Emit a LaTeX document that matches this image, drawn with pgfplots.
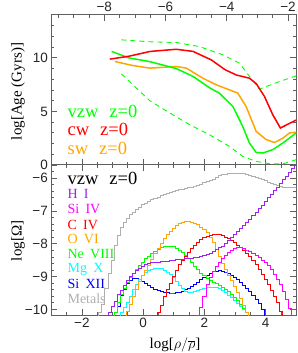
\documentclass[border=0pt]{standalone}
\usepackage{fontspec}
\setmainfont{Liberation Serif}
\newfontfamily\tickfont{Liberation Sans}
\usepackage{pgfplots}
\pgfplotsset{compat=1.18}
\definecolor{cgreen}{RGB}{0,255,0}
\definecolor{cred}{RGB}{255,0,0}
\definecolor{corange}{RGB}{255,165,0}
\definecolor{cpurple}{RGB}{160,32,240}
\definecolor{cmag}{RGB}{255,0,255}
\definecolor{ccyan}{RGB}{0,255,255}
\definecolor{cblue}{RGB}{0,0,255}
\definecolor{cgray}{RGB}{175,175,175}
\definecolor{axgray}{RGB}{95,95,95}
\newcommand{\legfont}{\fontsize{18.5}{18.5}\selectfont}
\newcommand{\smfont}{\fontsize{14}{14}\selectfont}
\pgfplotsset{
  myax/.style={
    width=245pt, height=150pt, scale only axis,
    axis line style={axgray, line width=1pt},
    tick style={axgray, line width=0.8pt},
    major tick length=6pt, minor tick length=3pt,
    tick align=inside,
    tick label style={font=\tickfont\fontsize{13.5}{13.5}\selectfont, text=black!85},
    label style={font=\fontsize{15}{15}\selectfont},
    clip=true,
  },
  hist/.style={const plot mark mid, line width=0.9pt, no marks},
}
\begin{document}
\begin{tikzpicture}
% ---------------- bottom panel ----------------
\begin{axis}[myax, name=bot, at={(0,0)}, anchor=south west,
  xmin=-3, xmax=5, ymin=-10.17, ymax=-5.6,
  xtick={-2,0,2,4}, xticklabels={−2,0,2,4},
  minor xtick={-2.5,-1.5,-1,-0.5,0.5,1,1.5,2.5,3,3.5,4.5},
  ytick={-10,-9,-8,-7,-6}, yticklabels={−10,−9,−8,−7,−6},
  minor ytick={-9.8,-9.6,-9.4,-9.2,-8.8,-8.6,-8.4,-8.2,-7.8,-7.6,-7.4,-7.2,-6.8,-6.6,-6.4,-6.2,-5.8},
  xlabel={log[$\rho/\overline{\rho}$]},
  ylabel={log[Ω]},
  xlabel style={at={(axis description cs:0.505,-0.2)}, anchor=center},
  ylabel style={at={(axis description cs:-0.136,0.494)}, anchor=center},
]
% Metals
\addplot[hist, cgray] coordinates {(-1.5,-10.6) (-1.4,-10.1) (-1.3,-9.85) (-1.2,-9.35) (-1.1,-8.9) (-1.0,-8.5) (-0.9,-8.05) (-0.8,-7.75) (-0.7,-7.5) (-0.6,-7.35) (-0.5,-7.22) (-0.4,-7.12) (-0.3,-7.04) (-0.2,-6.96) (-0.1,-6.88) (0.0,-6.81) (0.1,-6.76) (0.2,-6.71) (0.3,-6.66) (0.4,-6.62) (0.5,-6.58) (0.6,-6.54) (0.7,-6.50) (0.8,-6.46) (0.9,-6.43) (1.0,-6.40) (1.1,-6.38) (1.2,-6.35) (1.3,-6.33) (1.4,-6.31) (1.5,-6.29) (1.6,-6.27) (1.7,-6.24) (1.8,-6.21) (1.9,-6.18) (2.0,-6.14) (2.1,-6.11) (2.2,-6.08) (2.3,-6.03) (2.4,-5.98) (2.5,-5.93) (2.6,-5.90) (2.7,-5.88) (2.8,-5.86) (2.9,-5.85) (3.0,-5.85) (3.1,-5.85) (3.2,-5.86) (3.3,-5.87) (3.4,-5.89) (3.5,-5.91) (3.6,-5.94) (3.7,-5.98) (3.8,-6.02) (3.9,-6.05) (4.0,-6.08) (4.1,-6.12) (4.2,-6.16) (4.3,-6.19) (4.4,-6.22) (4.5,-6.25) (4.6,-6.27) (4.7,-6.28) (4.8,-6.29) (4.9,-6.29) (5.0,-6.29) (5.1,-6.29)};
% Si XII
\addplot[hist, cblue] coordinates {(-1.0,-10.6) (-0.9,-10.1) (-0.8,-9.90) (-0.7,-9.58) (-0.6,-9.38) (-0.5,-9.22) (-0.4,-9.12) (-0.3,-9.07) (-0.2,-9.07) (-0.1,-9.10) (0.0,-9.16) (0.1,-9.22) (0.2,-9.28) (0.3,-9.33) (0.4,-9.38) (0.5,-9.42) (0.6,-9.45) (0.7,-9.47) (0.8,-9.49) (0.9,-9.50) (1.0,-9.50) (1.1,-9.49) (1.2,-9.47) (1.3,-9.44) (1.4,-9.40) (1.5,-9.35) (1.6,-9.30) (1.7,-9.24) (1.8,-9.17) (1.9,-9.10) (2.0,-9.02) (2.1,-8.95) (2.2,-8.89) (2.3,-8.85) (2.4,-8.83) (2.5,-8.82) (2.6,-8.83) (2.7,-8.86) (2.8,-8.90) (2.9,-8.96) (3.0,-9.02) (3.1,-9.09) (3.2,-9.17) (3.3,-9.26) (3.4,-9.35) (3.5,-9.45) (3.6,-9.56) (3.7,-9.69) (3.8,-9.83) (3.9,-10.0) (4.0,-10.6)};
% Mg X
\addplot[hist, ccyan] coordinates {(-0.8,-10.6) (-0.7,-10.1) (-0.6,-9.95) (-0.5,-9.78) (-0.4,-9.60) (-0.3,-9.40) (-0.2,-9.23) (-0.1,-9.08) (0.0,-8.96) (0.1,-8.87) (0.2,-8.81) (0.3,-8.77) (0.4,-8.75) (0.5,-8.75) (0.6,-8.76) (0.7,-8.80) (0.8,-8.86) (0.9,-8.93) (1.0,-9.03) (1.1,-9.15) (1.2,-9.27) (1.3,-9.37) (1.4,-9.44) (1.5,-9.47) (1.6,-9.47) (1.7,-9.45) (1.8,-9.42) (1.9,-9.39) (2.0,-9.36) (2.1,-9.33) (2.2,-9.32) (2.3,-9.32) (2.4,-9.33) (2.5,-9.37) (2.6,-9.42) (2.7,-9.48) (2.8,-9.56) (2.9,-9.64) (3.0,-9.72) (3.1,-9.81) (3.2,-9.90) (3.3,-10.0) (3.4,-10.1) (3.5,-10.6)};
% Ne VIII
\addplot[hist, cgreen] coordinates {(-1.0,-10.6) (-0.9,-10.1) (-0.8,-9.80) (-0.7,-9.55) (-0.6,-9.35) (-0.5,-9.17) (-0.4,-9.02) (-0.3,-8.90) (-0.2,-8.78) (-0.1,-8.67) (0.0,-8.56) (0.1,-8.46) (0.2,-8.38) (0.3,-8.30) (0.4,-8.23) (0.5,-8.17) (0.6,-8.12) (0.7,-8.09) (0.8,-8.07) (0.9,-8.07) (1.0,-8.09) (1.1,-8.13) (1.2,-8.19) (1.3,-8.27) (1.4,-8.36) (1.5,-8.46) (1.6,-8.57) (1.7,-8.68) (1.8,-8.79) (1.9,-8.89) (2.0,-8.98) (2.1,-9.06) (2.2,-9.12) (2.3,-9.17) (2.4,-9.22) (2.5,-9.27) (2.6,-9.33) (2.7,-9.39) (2.8,-9.46) (2.9,-9.54) (3.0,-9.63) (3.1,-9.73) (3.2,-9.84) (3.3,-9.97) (3.4,-10.1) (3.5,-10.6)};
% O VI
\addplot[hist, corange] coordinates {(-0.6,-10.6) (-0.5,-10.05) (-0.4,-9.85) (-0.3,-9.62) (-0.2,-9.38) (-0.1,-9.16) (0.0,-8.98) (0.1,-8.82) (0.2,-8.67) (0.3,-8.48) (0.4,-8.30) (0.5,-8.13) (0.6,-7.98) (0.7,-7.84) (0.8,-7.72) (0.9,-7.62) (1.0,-7.53) (1.1,-7.45) (1.2,-7.39) (1.3,-7.35) (1.4,-7.32) (1.5,-7.32) (1.6,-7.34) (1.7,-7.37) (1.8,-7.42) (1.9,-7.49) (2.0,-7.57) (2.1,-7.67) (2.2,-7.80) (2.3,-7.97) (2.4,-8.18) (2.5,-8.40) (2.6,-8.60) (2.7,-8.78) (2.8,-8.95) (2.9,-9.12) (3.0,-9.30) (3.1,-9.48) (3.2,-9.68) (3.3,-9.88) (3.4,-10.08) (3.5,-10.6)};
% C IV
\addplot[hist, cred] coordinates {(0.4,-10.6) (0.5,-10.1) (0.6,-9.88) (0.7,-9.62) (0.8,-9.40) (0.9,-9.20) (1.0,-9.0) (1.1,-8.80) (1.2,-8.64) (1.3,-8.50) (1.4,-8.38) (1.5,-8.26) (1.6,-8.15) (1.7,-8.05) (1.8,-7.95) (1.9,-7.88) (2.0,-7.82) (2.1,-7.78) (2.2,-7.75) (2.3,-7.73) (2.4,-7.72) (2.5,-7.73) (2.6,-7.76) (2.7,-7.80) (2.8,-7.85) (2.9,-7.91) (3.0,-7.97) (3.1,-8.04) (3.2,-8.12) (3.3,-8.20) (3.4,-8.29) (3.5,-8.39) (3.6,-8.51) (3.7,-8.64) (3.8,-8.77) (3.9,-8.92) (4.0,-9.08) (4.1,-9.25) (4.2,-9.42) (4.3,-9.60) (4.4,-9.80) (4.5,-10.05) (4.6,-10.6)};
% Si IV
\addplot[hist, cmag] coordinates {(1.8,-10.6) (1.9,-9.95) (2.0,-9.6) (2.1,-9.25) (2.2,-9.02) (2.3,-8.85) (2.4,-8.70) (2.5,-8.57) (2.6,-8.45) (2.7,-8.36) (2.8,-8.27) (2.9,-8.20) (3.0,-8.15) (3.1,-8.12) (3.2,-8.12) (3.3,-8.15) (3.4,-8.19) (3.5,-8.23) (3.6,-8.29) (3.7,-8.36) (3.8,-8.43) (3.9,-8.50) (4.0,-8.58) (4.1,-8.67) (4.2,-8.78) (4.3,-8.92) (4.4,-9.08) (4.5,-9.25) (4.6,-9.45) (4.7,-9.70) (4.8,-9.97) (4.9,-10.6)};
% H I
\addplot[hist, cpurple] coordinates {(-1.2,-10.6) (-1.1,-10.1) (-1.0,-9.9) (-0.9,-9.75) (-0.8,-9.55) (-0.7,-9.42) (-0.6,-9.27) (-0.5,-9.12) (-0.4,-9.0) (-0.3,-8.9) (-0.2,-8.81) (-0.1,-8.74) (0.0,-8.68) (0.1,-8.63) (0.2,-8.60) (0.3,-8.58) (0.4,-8.57) (0.5,-8.56) (0.6,-8.55) (0.7,-8.54) (0.8,-8.53) (0.9,-8.52) (1.0,-8.50) (1.1,-8.49) (1.2,-8.48) (1.3,-8.47) (1.4,-8.46) (1.5,-8.45) (1.6,-8.44) (1.7,-8.43) (1.8,-8.41) (1.9,-8.39) (2.0,-8.37) (2.1,-8.34) (2.2,-8.29) (2.3,-8.23) (2.4,-8.18) (2.5,-8.12) (2.6,-8.07) (2.7,-7.98) (2.8,-7.89) (2.9,-7.80) (3.0,-7.72) (3.1,-7.63) (3.2,-7.54) (3.3,-7.45) (3.4,-7.36) (3.5,-7.26) (3.6,-7.15) (3.7,-7.04) (3.8,-6.93) (3.9,-6.82) (4.0,-6.71) (4.1,-6.60) (4.2,-6.49) (4.3,-6.38) (4.4,-6.27) (4.5,-6.16) (4.6,-6.05) (4.7,-5.94) (4.8,-5.83) (4.9,-5.72) (5.0,-5.62) (5.1,-5.52)};
\node[anchor=mid west, font=\legfont, text=black, inner ysep=1pt] at (rel axis cs:0.052,0.887) {vzw\hspace{0.6em}z=0};
\node[anchor=mid west, font=\smfont, text=cpurple, inner ysep=1pt] at (rel axis cs:0.052,0.795) {H\hspace{0.45em}I};
\node[anchor=mid west, font=\smfont, text=cmag, inner ysep=1pt] at (rel axis cs:0.052,0.69) {Si\hspace{0.45em}IV};
\node[anchor=mid west, font=\smfont, text=cred, inner ysep=1pt] at (rel axis cs:0.052,0.588) {C\hspace{0.45em}IV};
\node[anchor=mid west, font=\smfont, text=corange, inner ysep=1pt] at (rel axis cs:0.052,0.49) {O\hspace{0.45em}VI};
\node[anchor=mid west, font=\smfont, text=cgreen, inner ysep=1pt] at (rel axis cs:0.052,0.39) {Ne\hspace{0.45em}VIII};
\node[anchor=mid west, font=\smfont, text=ccyan, inner ysep=1pt] at (rel axis cs:0.052,0.30) {Mg\hspace{0.45em}X};
\node[anchor=mid west, font=\smfont, text=cblue, inner ysep=1pt] at (rel axis cs:0.052,0.189) {Si\hspace{0.45em}XII};
\node[anchor=mid west, font=\smfont, text=cgray, inner ysep=1pt] at (rel axis cs:0.052,0.089) {Metals};
\end{axis}
% ---------------- top panel: bottom-edge ticks in log(rho) ----------------
\begin{axis}[myax, at={(bot.north west)}, anchor=south west,
  xmin=-3, xmax=5, ymin=0, ymax=14,
  xtick={-2,0,2,4}, xticklabels={,,,},
  minor xtick={-2.5,-1.5,-1,-0.5,0.5,1,1.5,2.5,3,3.5,4.5},
  xtick pos=lower, ytick=\empty,
]
\end{axis}
% ---------------- top panel: data ----------------
\begin{axis}[myax, name=top, at={(bot.north west)}, anchor=south west,
  xmin=-9.73, xmax=-1.73, ymin=0, ymax=14,
  xtick={-8,-6,-4,-2}, xticklabels={−8,−6,−4,−2},
  minor xtick={-9.5,-9,-8.5,-7.5,-7,-6.5,-5.5,-5,-4.5,-3.5,-3,-2.5},
  xtick pos=upper, xticklabel pos=upper,
  ytick={0,5,10}, yticklabels={0,5,10},
  minor ytick={1,2,3,4,6,7,8,9,11,12,13},
  ylabel={log[Age (Gyrs)]},
  ylabel style={at={(axis description cs:-0.136,0.49)}, anchor=center},
]
\addplot[cgreen, line width=0.9pt, dash pattern=on 5pt off 4pt] coordinates {(-7.44,11.68) (-6.515,11.5) (-5.645,11.43) (-4.89,11.05) (-4.13,10.28) (-3.58,9.5) (-3.26,8.26) (-2.93,7.08) (-2.71,7.33) (-2.28,7.79) (-1.73,8.32)};
\addplot[cgreen, line width=0.9pt, dash pattern=on 5pt off 4pt] coordinates {(-7.44,8.5) (-6.515,6.0) (-5.86,4.85) (-5.21,3.76) (-4.56,2.82) (-3.91,1.73) (-3.48,0.8) (-3.04,0.34) (-2.61,0.12) (-2.17,0.1) (-1.73,0.5)};
\addplot[corange, line width=1.5pt] coordinates {(-7.65,9.66) (-7.1,9.3) (-6.515,9.04) (-5.645,9.19) (-5.32,9.04) (-4.78,8.1) (-4.34,7.48) (-3.64,6.71) (-3.37,5.46) (-3.04,3.13) (-2.71,2.36) (-2.44,2.1) (-2.17,2.5) (-1.95,3.0) (-1.73,3.05)};
\addplot[cgreen, line width=1.5pt] coordinates {(-7.76,10.6) (-7.2,10.0) (-6.515,9.65) (-5.645,9.0) (-5.10,8.26) (-4.56,7.2) (-4.24,6.7) (-3.80,5.46) (-3.48,3.6) (-3.26,2.05) (-3.04,1.17) (-2.82,1.12) (-2.50,1.43) (-2.17,2.05) (-1.73,3.0)};
\addplot[cred, line width=1.5pt] coordinates {(-7.82,9.88) (-7.2,10.15) (-6.5,10.6) (-5.65,10.8) (-5.1,10.6) (-4.5,9.8) (-4.06,8.9) (-3.69,8.4) (-3.26,8.1) (-3.04,7.6) (-2.77,6.4) (-2.5,4.7) (-2.25,3.45) (-2.01,3.8) (-1.73,4.2)};
\node[anchor=mid west, font=\legfont, text=cgreen] at (rel axis cs:0.052,0.335) {vzw\hspace{0.6em}z=0};
\node[anchor=mid west, font=\legfont, text=cred] at (rel axis cs:0.052,0.213) {cw\hspace{0.6em}z=0};
\node[anchor=mid west, font=\legfont, text=corange] at (rel axis cs:0.052,0.0865) {sw\hspace{0.6em}z=0};
\end{axis}
\pgfresetboundingbox
\path ([shift={(-51.3pt,-38pt)}]bot.south west) rectangle ([shift={(1pt,15pt)}]top.north east);
\end{tikzpicture}
\end{document}
